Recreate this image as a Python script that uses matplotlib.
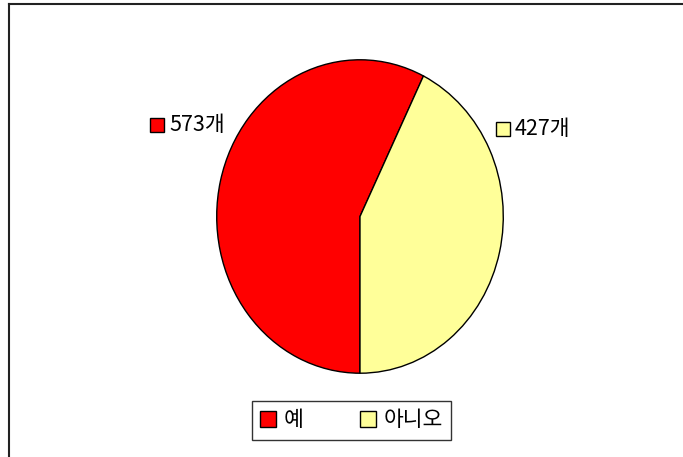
import matplotlib
matplotlib.use("Agg")
import matplotlib.pyplot as plt
from matplotlib.patches import Rectangle
from matplotlib.lines import Line2D

plt.rcParams['font.family'] = ['Noto Sans CJK KR', 'DejaVu Sans']

categories = ['예', '아니오']
values = [573, 427]
unit = '개'
colors = ['#FF0000', '#FFFF99']

W, H = 683, 457
fig = plt.figure(figsize=(W / 100, H / 100), dpi=100)

def fx(px):
    return px / W

def fy(py):
    return 1 - py / H

# pie axes (ellipse bounds in pixels: x 216..504, y 59..374)
ax = fig.add_axes([fx(216), fy(374), fx(504) - fx(216), fy(59) - fy(374)])
wedges, _ = ax.pie(values, colors=colors, startangle=-90, counterclock=False,
                   wedgeprops=dict(edgecolor='black', linewidth=1.0))
ax.set_aspect('auto')
ax.set_xlim(-1.005, 1.005)
ax.set_ylim(-1.005, 1.005)
ax.axis('off')

# frame lines (top and left)
fig.add_artist(Line2D([fx(9), fx(683)], [fy(4), fy(4)], color='#222222', linewidth=1.5))
fig.add_artist(Line2D([fx(9), fx(9)], [fy(4), fy(457)], color='#222222', linewidth=1.5))

# data labels with colour keys
label_pos = [(150, 125), (496, 129)]
for (px, py), v, c in zip(label_pos, values, colors):
    fig.add_artist(Rectangle((fx(px), fy(py + 7)), 14 / W, 14 / H, facecolor=c,
                             edgecolor='black', linewidth=1.0, transform=fig.transFigure))
    fig.text(fx(px + 19), fy(py), f'{v}{unit}', fontsize=15.5, va='center', ha='left',
             color='black')

leg = fig.legend(wedges, categories, loc='center', bbox_to_anchor=(fx(351.5), fy(420.5)),
                 ncol=2, fontsize=15.5, frameon=True, fancybox=False, edgecolor='black',
                 handlelength=0.75, handleheight=0.75, handletextpad=0.35, columnspacing=2.6,
                 borderpad=0.4, borderaxespad=0)
leg.get_frame().set_linewidth(1.0)

fig.savefig('out.png', dpi=100)
